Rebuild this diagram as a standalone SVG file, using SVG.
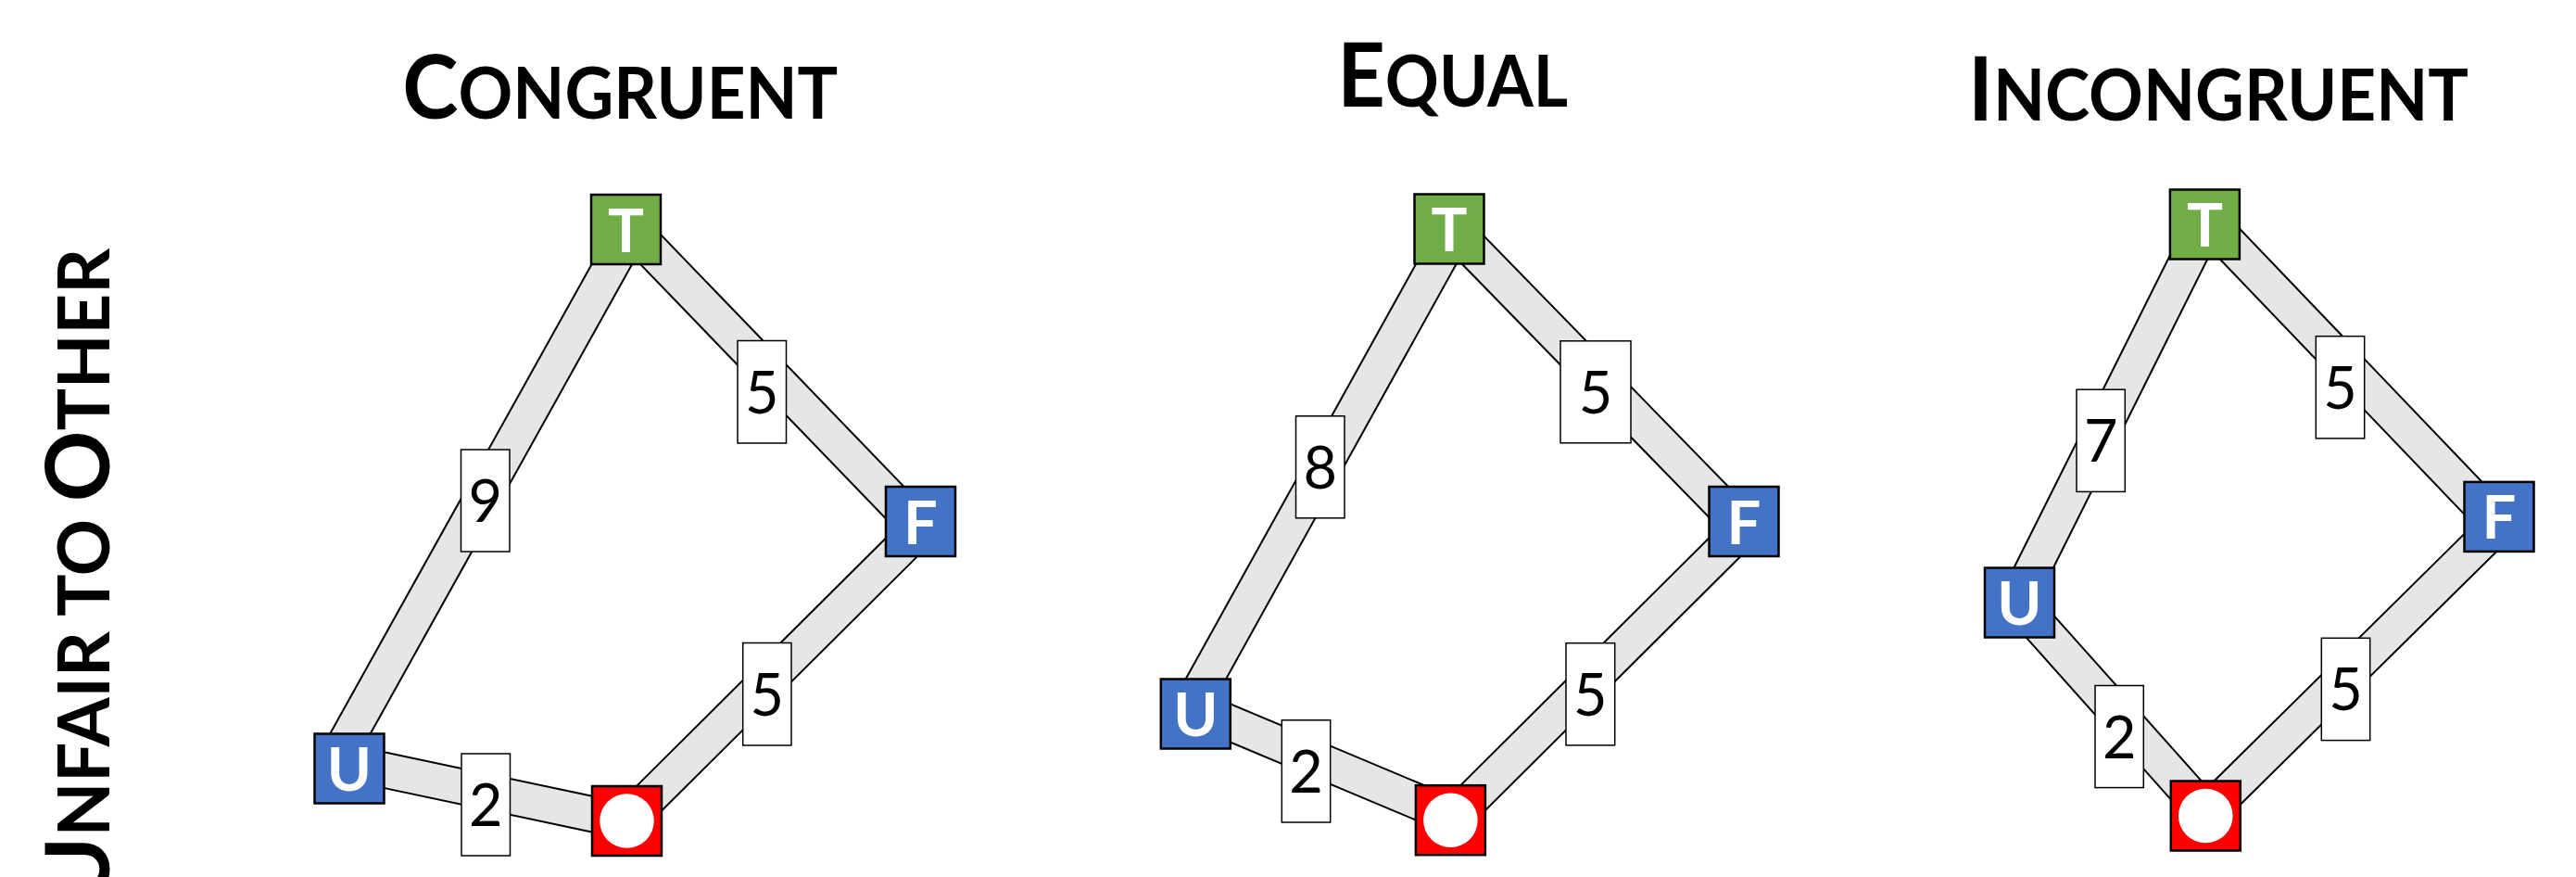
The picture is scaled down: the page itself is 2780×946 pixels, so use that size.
<svg xmlns="http://www.w3.org/2000/svg" width="2780" height="946" viewBox="0 0 2780 946">
  <style>
    .bo { stroke: #000; stroke-width: 40; stroke-linecap: butt; }
    .bi { stroke: #e6e6e6; stroke-width: 36; stroke-linecap: butt; }
    .node rect { stroke: #000; stroke-width: 2.5; }
    .t { fill: #70ad47; }
    .b { fill: #4472c4; }
    .r { fill: #ff0000; }
    .nl { font-family: Lato, "Liberation Sans", sans-serif; font-weight: 700; font-size: 65px; fill: #fff; text-anchor: middle; }
    .lbl rect { fill: #fff; stroke: #000; stroke-width: 1.5; }
    .lbl text { font-family: Lato, "Liberation Sans", sans-serif; font-size: 63px; fill: #000; text-anchor: middle; }
    .title { font-family: Lato, "Liberation Sans", sans-serif; font-weight: 700; fill: #000; }
    .big { font-size: 95px; }
    .sm { font-size: 76px; }
  </style>

  <rect width="2780" height="946" fill="#fff"/>

  <!-- headings -->
  <text class="title" x="669.3" y="128" text-anchor="middle" textLength="470" lengthAdjust="spacingAndGlyphs"><tspan class="big">C</tspan><tspan class="sm">ONGRUENT</tspan></text>
  <text class="title" x="1567.7" y="114.6" text-anchor="middle" textLength="249" lengthAdjust="spacingAndGlyphs"><tspan class="big">E</tspan><tspan class="sm">QUAL</tspan></text>
  <text class="title" x="2394" y="129.7" text-anchor="middle" textLength="540" lengthAdjust="spacingAndGlyphs"><tspan class="big">I</tspan><tspan class="sm">NCONGRUENT</tspan></text>
  <text class="title" transform="translate(118.3 267.8) rotate(-90)" text-anchor="end"><tspan class="big">U</tspan><tspan class="sm">NFAIR TO </tspan><tspan class="big">O</tspan><tspan class="sm">THER</tspan></text>

  <!-- edges: black outline pass, then grey fill pass -->
  <g id="connectors">
    <g id="edge-outlines">
      <line class="bo" x1="677.1" y1="255" x2="364.8" y2="815"/>
      <line class="bo" x1="680" y1="246.2" x2="990" y2="567.3"/>
      <line class="bo" x1="676.5" y1="885.1" x2="990" y2="573.4"/>
      <line class="bo" x1="380" y1="823.3" x2="676.5" y2="886.1"/>

      <line class="bo" x1="1566.4" y1="255" x2="1288.8" y2="755"/>
      <line class="bo" x1="1568" y1="247.5" x2="1878" y2="565.3"/>
      <line class="bo" x1="1566" y1="884.1" x2="1878" y2="573.7"/>
      <line class="bo" x1="1295" y1="766.2" x2="1565" y2="879.5"/>

      <line class="bo" x1="2373.3" y1="255" x2="2183.4" y2="635"/>
      <line class="bo" x1="2385" y1="240.8" x2="2690" y2="559.2"/>
      <line class="bo" x1="2385" y1="873.5" x2="2690" y2="572.4"/>
      <line class="bo" x1="2185" y1="657.2" x2="2375" y2="870"/>
    </g>
    <g id="edge-fills">
      <line class="bi" x1="677.1" y1="255" x2="364.8" y2="815"/>
      <line class="bi" x1="680" y1="246.2" x2="990" y2="567.3"/>
      <line class="bi" x1="676.5" y1="885.1" x2="990" y2="573.4"/>
      <line class="bi" x1="380" y1="823.3" x2="676.5" y2="886.1"/>

      <line class="bi" x1="1566.4" y1="255" x2="1288.8" y2="755"/>
      <line class="bi" x1="1568" y1="247.5" x2="1878" y2="565.3"/>
      <line class="bi" x1="1566" y1="884.1" x2="1878" y2="573.7"/>
      <line class="bi" x1="1295" y1="766.2" x2="1565" y2="879.5"/>

      <line class="bi" x1="2373.3" y1="255" x2="2183.4" y2="635"/>
      <line class="bi" x1="2385" y1="240.8" x2="2690" y2="559.2"/>
      <line class="bi" x1="2385" y1="873.5" x2="2690" y2="572.4"/>
      <line class="bi" x1="2185" y1="657.2" x2="2375" y2="870"/>
    </g>

    <!-- edge weights -->
    <g id="edge-labels" class="lbl">
      <rect x="497.5" y="485" width="52.5" height="110"/><text x="523.75" y="563">9</text>
      <rect x="796" y="367.5" width="52.5" height="110.5"/><text x="822.25" y="445.75">5</text>
      <rect x="801.7" y="693.5" width="52.3" height="110.5"/><text x="827.85" y="771.75">5</text>
      <rect x="498" y="813" width="52.5" height="110"/><text x="524.25" y="891">2</text>

      <rect x="1398.5" y="448.8" width="52.5" height="110"/><text x="1424.75" y="526.8">8</text>
      <rect x="1684" y="367.8" width="76" height="110"/><text x="1722" y="445.8">5</text>
      <rect x="1690" y="693.7" width="52.7" height="110.2"/><text x="1716.35" y="771.8">5</text>
      <rect x="1383.3" y="776.8" width="52.4" height="110.2"/><text x="1409.5" y="854.9">2</text>

      <rect x="2241" y="420.2" width="52.3" height="110.2"/><text x="2267.15" y="498.3">7</text>
      <rect x="2499.3" y="362.7" width="52.4" height="110.2"/><text x="2525.5" y="440.8">5</text>
      <rect x="2505.3" y="688.3" width="52.4" height="110.3"/><text x="2531.5" y="766.45">5</text>
      <rect x="2261" y="739.5" width="52.3" height="110.1"/><text x="2287.15" y="817.55">2</text>
    </g>
  </g>

  <!-- Congruent -->
  <g id="c-T" class="node"><rect class="t" x="638" y="210" width="75" height="75"/><text class="nl" x="675.5" y="271.5">T</text></g>
  <g id="c-F" class="node"><rect class="b" x="956" y="525" width="75" height="75"/><text class="nl" x="993.5" y="586.5">F</text></g>
  <g id="c-U" class="node"><rect class="b" x="339.5" y="791.5" width="75" height="75"/><text class="nl" x="377" y="853">U</text></g>
  <g id="c-O" class="node"><rect class="r" x="639" y="848" width="75" height="75"/><circle cx="676.5" cy="885.5" r="29.3" fill="#fff"/></g>

  <!-- Equal -->
  <g id="e-T" class="node"><rect class="t" x="1526.5" y="209.5" width="75" height="75"/><text class="nl" x="1564" y="271">T</text></g>
  <g id="e-F" class="node"><rect class="b" x="1844.5" y="525" width="75" height="75"/><text class="nl" x="1882" y="586.5">F</text></g>
  <g id="e-U" class="node"><rect class="b" x="1252.8" y="732.5" width="75" height="75"/><text class="nl" x="1290.3" y="794">U</text></g>
  <g id="e-O" class="node"><rect class="r" x="1527.9" y="847.2" width="75" height="75"/><circle cx="1565.4" cy="884.7" r="29.3" fill="#fff"/></g>

  <!-- Incongruent -->
  <g id="i-T" class="node"><rect class="t" x="2341.9" y="204.5" width="75" height="75"/><text class="nl" x="2379.4" y="266">T</text></g>
  <g id="i-F" class="node"><rect class="b" x="2659.5" y="519.9" width="75" height="75"/><text class="nl" x="2697" y="581.4">F</text></g>
  <g id="i-U" class="node"><rect class="b" x="2142" y="612.5" width="75" height="75"/><text class="nl" x="2179.5" y="674">U</text></g>
  <g id="i-O" class="node"><rect class="r" x="2342.8" y="842.5" width="75" height="75"/><circle cx="2380.3" cy="880" r="29.3" fill="#fff"/></g>
</svg>
